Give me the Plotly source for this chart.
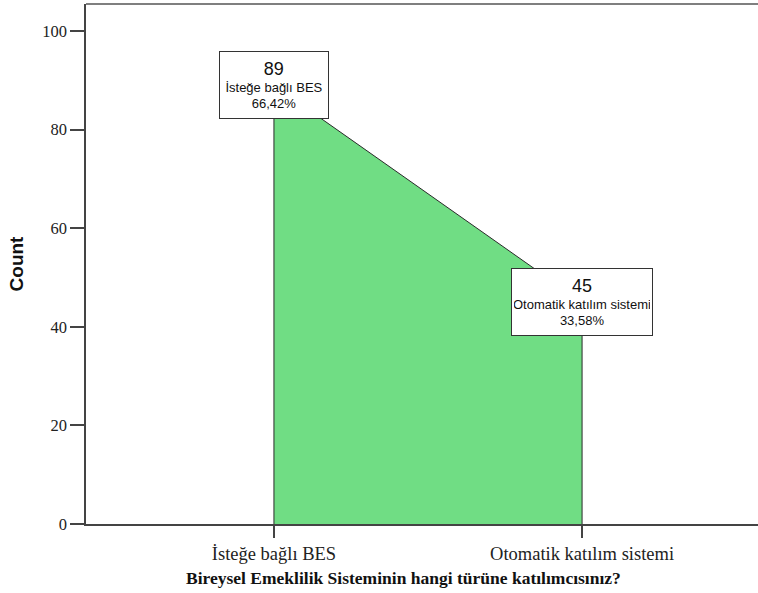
import plotly.graph_objects as go

categories = ["İsteğe bağlı BES", "Otomatik katılım sistemi"]
counts = [89, 45]
percent_labels = ["66,42%", "33,58%"]
y_ticks = [0, 20, 40, 60, 80, 100]

x_title = "Bireysel Emeklilik Sisteminin hangi türüne katılımcısınız?"
y_title = "Count"

xs = [categories[0]] + categories + [categories[-1]]
ys = [0] + counts + [0]

# label box sizes (style only)
box_widths = [104, 136]

fig = go.Figure()
fig.add_trace(go.Scatter(
    x=xs, y=ys, mode="lines", fill="toself",
    fillcolor="rgb(112,221,132)",
    line=dict(color="#2a2a2a", width=1),
    hoverinfo="skip", showlegend=False,
))

for cat, c, p, w in zip(categories, counts, percent_labels, box_widths):
    fig.add_annotation(
        x=cat, y=c, xref="x", yref="y", showarrow=False,
        text=f"<span style='font-size:18px'>{c}</span><br>{cat}<br>{p}",
        font=dict(family="Liberation Sans, Arial", size=13, color="#111"),
        bgcolor="white", bordercolor="#333", borderwidth=1, borderpad=2,
        width=w, height=62, align="center", valign="middle",
    )

# x axis title as annotation (slightly left of plot centre as in reference)
fig.add_annotation(
    x=0.473, y=0, xref="paper", yref="paper", yshift=-54, yanchor="middle",
    showarrow=False, text=f"<b>{x_title}</b>",
    font=dict(family="Liberation Serif, Times New Roman, serif", size=17.5, color="#111"),
)

# top frame line
fig.add_shape(type="line", xref="paper", yref="paper", x0=0, x1=1, y0=1, y1=1,
              line=dict(color="#555", width=1.5))

serif = "Liberation Serif, Times New Roman, serif"
fig.update_layout(
    width=758, height=593,
    margin=dict(l=86, r=0, t=4, b=69),
    paper_bgcolor="white", plot_bgcolor="white",
    xaxis=dict(
        type="category", range=[-0.61, 1.571],
        showgrid=False, zeroline=False,
        showline=True, linecolor="#444", linewidth=1.5,
        ticks="outside", ticklen=12, tickcolor="#444", tickwidth=1.5,
        tickfont=dict(family=serif, size=18.5, color="#222"),
    ),
    yaxis=dict(
        range=[0, 105.5], tickvals=y_ticks,
        showgrid=False, zeroline=False,
        showline=True, linecolor="#444", linewidth=1.5,
        ticks="outside", ticklen=14, tickcolor="#444", tickwidth=1.5,
        tickfont=dict(family=serif, size=16.5, color="#222"),
        title=dict(text=f"<b>{y_title}</b>", font=dict(family="Liberation Sans, Arial", size=19, color="#111"), standoff=14),
    ),
)

fig.write_html("out.html", config={"displayModeBar": False},
               post_script="document.body.style.margin='0';")
